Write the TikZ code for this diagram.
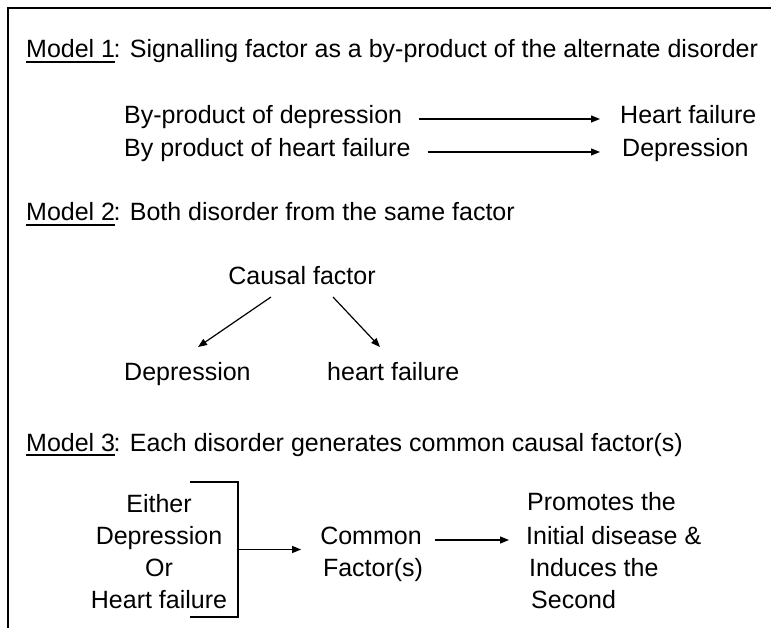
\documentclass[tikz,border=0pt]{standalone}
\usepackage{fontspec}
\setmainfont{Liberation Sans}
\usetikzlibrary{arrows.meta,calc}
% underline with a heavier rule, as used for the model headings
\newsavebox\ulbox
\newcommand\ulhead[1]{\sbox\ulbox{#1}\rlap{\rule[-4.6pt]{\wd\ulbox}{1.8pt}}\usebox\ulbox\kern-1.5pt}
\begin{document}
\begin{tikzpicture}[x=1pt,y=-1pt,
  txt/.style={inner sep=0pt, font=\fontsize{25}{30}\selectfont},
  arr/.style={line width=1.2pt, -{Triangle[length=9pt,width=7pt]}},
  frame/.style={line width=1.5pt}]
\useasboundingbox (0,0) rectangle (771,628);
\fill[white] (0,0) rectangle (771,628);
% outer frame (top and left edges)
\draw[frame] (8,628) -- (8,8) -- (771,8);

% ---- Model 1 ----
\node[txt,anchor=base west] (m1) at (26,58) {\ulhead{Model 1}: Signalling factor as a by-product of the alternate disorder};

\node[txt,anchor=base west] (bd) at (124,124) {By-product of depression};
\node[txt,anchor=base west] (hf1) at (620,124) {Heart failure};
\node[txt,anchor=base west] (bh) at (124,157) {By product of heart failure};
\node[txt,anchor=base west] (dp1) at (622,157) {Depression};
\draw[arr] ([xshift=17pt,yshift=5pt]bd.base east) -- ([xshift=-20pt,yshift=5pt]hf1.base west);
\draw[arr] ([xshift=17pt,yshift=5pt]bh.base east) -- ([xshift=-22pt,yshift=5pt]dp1.base west);

% ---- Model 2 ----
\node[txt,anchor=base west] (m2) at (26,221) {\ulhead{Model 2}: Both disorder from the same factor};

\node[txt,anchor=base] (cf) at (302,285) {Causal factor};
\node[txt,anchor=base west] (dp2) at (124,380) {Depression};
\node[txt,anchor=base west] (hf2) at (327,380) {heart failure};
\draw[arr] ([xshift=-31pt,yshift=-12pt]cf.base) -- ([xshift=74pt,yshift=33pt]dp2.base west);
\draw[arr] ([xshift=31pt,yshift=-12pt]cf.base) -- ([xshift=53pt,yshift=33pt]hf2.base west);

% ---- Model 3 ----
\node[txt,anchor=base west] (m3) at (26,451) {\ulhead{Model 3}: Each disorder generates common causal factor(s)};

\node[txt,anchor=base] (ei) at (159,512) {Either};
\node[txt,anchor=base] (dp3) at (159,544) {Depression};
\node[txt,anchor=base] (or) at (159,576) {Or};
\node[txt,anchor=base] (hf3) at (159,608) {Heart failure};
% bracket gathering the alternatives
\draw[frame] (190,482) -- (238,482) -- (238,617) -- (190,617);
\coordinate (bm) at (238,549.5);

\node[txt,anchor=base] (cm) at (371,544) {Common};
\node[txt,anchor=base] (fs) at (373,576) {Factor(s)};
\draw[arr] (bm) -- ($(bm -| cm.west)+(-19,0)$);

\node[txt,anchor=base west] (pr) at (527,510) {Promotes the};
\node[txt,anchor=base west] (id) at (526,544) {Initial disease \&};
\node[txt,anchor=base west] (in) at (529,576) {Induces the};
\node[txt,anchor=base west] (sc) at (531,608) {Second};
\draw[arr] ([xshift=13pt,yshift=4pt]cm.base east) -- ([xshift=-17pt,yshift=4pt]id.base west);
\end{tikzpicture}
\end{document}
